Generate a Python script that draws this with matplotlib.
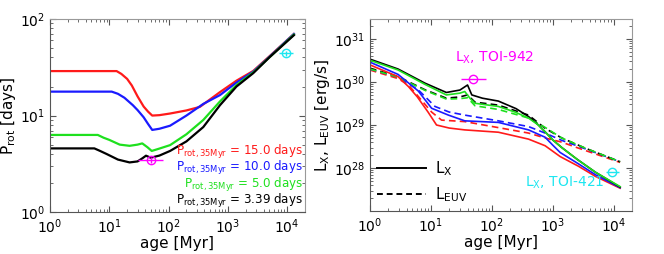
import numpy as np
import matplotlib
matplotlib.use("Agg")
from matplotlib import pyplot as plt

# left panel: rotation period tracks (age [Myr], P_rot [days])
age_red = [1, 13.3, 16, 20, 24, 30, 38, 45, 53, 70, 106, 200, 337, 736, 1400, 2680, 5000, 13000]
prot_red = [28.9, 28.9, 27, 24, 20.5, 15.8, 12.4, 11.0, 10.0, 10.1, 10.5, 11.3, 12.3, 17.5, 23, 29, 41, 70]
age_blue = [1, 11, 14, 18, 25, 30, 38, 45, 53, 70, 106, 200, 385, 736, 1400, 2680, 5000, 13000]
prot_blue = [17.7, 17.7, 16.8, 15.3, 12.8, 11.4, 9.6, 8.2, 7.1, 7.3, 7.85, 10.0, 13.2, 16.3, 22, 28.5, 40.5, 70]
age_green = [1, 6.4, 8, 10, 15, 22, 30, 36, 44, 52, 70, 106, 200, 385, 736, 1400, 2680, 5000, 13000]
prot_green = [6.3, 6.3, 5.9, 5.6, 5.0, 4.86, 5.0, 5.15, 4.7, 4.3, 4.55, 4.94, 6.4, 9.0, 14.0, 20.7, 28, 40, 69]
age_black = [1, 5.6, 7, 9, 14, 22, 30, 36, 41.6, 50, 70, 106, 200, 385, 736, 1400, 2680, 5000, 13000]
prot_black = [4.57, 4.57, 4.3, 4.0, 3.5, 3.27, 3.35, 3.6, 3.84, 3.66, 3.85, 4.3, 5.4, 7.6, 12.8, 20, 27.5, 40, 68]
prot_labels = ["15.0", "10.0", "5.0", "3.39"]

# observed points
toi942_age, toi942_age_lo, toi942_age_hi = 50, 19, 31
toi942_prot, toi942_lx = 3.46, 1.16e30
toi421_age, toi421_age_lo, toi421_age_hi = 9400, 2000, 3000
toi421_prot, toi421_lx = 44, 8.3e27

# right panel: L_X (solid) and L_EUV (dashed)
lx_red_age = [1, 2.9, 4.3, 6, 9, 12.4, 20, 36, 128, 400, 748, 1320, 2640, 5000, 12700]
lx_red = [2.5e30, 1.33e30, 7.8e29, 4.5e29, 2e29, 1e29, 8.5e28, 7.7e28, 6.8e28, 4.7e28, 3.3e28, 1.85e28, 1.1e28, 6.4e27, 3.4e27]
lx_blue_age = [1, 2.9, 6.2, 10.3, 19.4, 36, 128, 400, 748, 1000, 1320, 2640, 5000, 12700]
lx_blue = [2.9e30, 1.5e30, 6.2e29, 2.45e29, 1.7e29, 1.25e29, 1.15e29, 7.7e28, 5.2e28, 3.4e28, 2.3e28, 1.25e28, 7e27, 3.5e27]
lx_green_age = [1, 2.9, 8, 18, 30, 36, 45, 53, 128, 240, 400, 580, 800, 1000, 1400, 2500, 5000, 12700]
lx_green = [3.2e30, 1.9e30, 8.8e29, 5e29, 5.5e29, 6e29, 4e29, 3.2e29, 2.7e29, 2e29, 1.45e29, 1e29, 6.3e28, 4.5e28, 3e28, 1.6e28, 8e27, 3.7e27]
lx_black_age = [1, 2.9, 8, 18, 30, 40, 47, 70, 128, 250, 400, 580, 800, 1000, 1400, 2500, 5000, 12700]
lx_black = [3.4e30, 2e30, 9.4e29, 5.7e29, 6.5e29, 8.5e29, 5e29, 4.2e29, 3.6e29, 2.4e29, 1.57e29, 1e29, 6.3e28, 4.5e28, 3e28, 1.6e28, 8e27, 3.6e27]

euv_red_age = [1, 2.9, 4.3, 10.3, 15, 36, 128, 400, 748, 1400, 2640, 12700]
euv_red = [1.9e30, 1.2e30, 8.5e29, 2e29, 1.3e29, 1.2e29, 8.7e28, 6.5e28, 5e28, 4e28, 2.9e28, 1.35e28]
euv_blue_age = [1, 2.9, 6.2, 11.7, 20, 36, 128, 400, 748, 1400, 2640, 12700]
euv_blue = [2e30, 1.3e30, 6.6e29, 2.7e29, 2e29, 1.7e29, 1.25e29, 9.2e28, 6.5e28, 4.4e28, 3.2e28, 1.4e28]
euv_green_age = [1, 2.9, 8, 18, 30, 40, 53, 128, 400, 748, 1400, 3400, 12700]
euv_green = [2e30, 1.3e30, 6.4e29, 4e29, 4.1e29, 4.3e29, 2.8e29, 2.3e29, 1.45e29, 8.8e28, 5e28, 2.9e28, 1.4e28]
euv_black_age = [1, 2.9, 8, 18, 30, 40, 53, 128, 400, 748, 1400, 3400, 12700]
euv_black = [2.1e30, 1.33e30, 6.6e29, 4.2e29, 4.5e29, 5e29, 3.4e29, 2.9e29, 1.7e29, 8.4e28, 5e28, 2.9e28, 1.4e28]

RED, BLUE, GREEN, BLACK = "#ff1a1a", "#1a1aff", "#1ee01e", "black"
MAG, CYAN = "#ff00ff", "#1ee6f0"

plt.rcParams["font.family"] = "DejaVu Sans"
plt.rcParams["font.size"] = 10

fig = plt.figure(figsize=(6.64, 2.54), dpi=100)
ax1 = fig.add_axes([0.0753, 0.165, 0.384, 0.76])
ax2 = fig.add_axes([0.557, 0.169, 0.395, 0.756])


def style(ax):
    ax.set_xscale("log")
    ax.set_yscale("log")
    ax.tick_params(which="both", direction="in", top=True, right=True, colors="#555555", labelcolor="black", labelsize=10)
    ax.tick_params(which="major", length=4, width=0.8)
    ax.tick_params(which="minor", length=2.5, width=0.6)
    for s in ["top", "right"]:
        ax.spines[s].set_color("#999999")
    for s in ["bottom", "left"]:
        ax.spines[s].set_color("#555555")
    ax.set_xlim(1, 2e4)
    ax.set_xlabel("age [Myr]", fontsize=11, labelpad=0)


# left panel
style(ax1)
lw = 1.6
ax1.plot(age_red, prot_red, color=RED, lw=lw)
ax1.plot(age_blue, prot_blue, color=BLUE, lw=lw)
ax1.plot(age_green, prot_green, color=GREEN, lw=lw)
ax1.plot(age_black, prot_black, color=BLACK, lw=lw)
ax1.errorbar([toi942_age], [toi942_prot], xerr=[[toi942_age_lo], [toi942_age_hi]], yerr=[[0.25], [0.25]],
             fmt="o", mfc="none", mec=MAG, ecolor=MAG, ms=6, mew=1, elinewidth=1, capsize=0)
ax1.errorbar([toi421_age], [toi421_prot], xerr=[[toi421_age_lo], [toi421_age_hi]], yerr=[[2.5], [2.5]],
             fmt="o", mfc="none", mec=CYAN, ecolor=CYAN, ms=6, mew=1, elinewidth=1, capsize=0)
ax1.set_ylim(1, 100)
ax1.set_ylabel(r"P$_{\rm rot}$ [days]", fontsize=11, labelpad=1)
for i, (lab, c) in enumerate(zip(prot_labels, [RED, BLUE, GREEN, BLACK])):
    ax1.text(0.993, 0.311 - i * 0.085, r"P$_{\rm rot,35Myr}$ = " + lab + " days", color=c,
             transform=ax1.transAxes, ha="right", va="center", fontsize=8.6)

# right panel
style(ax2)
lw2 = 1.2
dash = (0, (4, 2.5))
ax2.plot(euv_red_age, euv_red, color=RED, lw=lw2, ls=dash)
ax2.plot(euv_blue_age, euv_blue, color=BLUE, lw=lw2, ls=dash)
ax2.plot(euv_black_age, euv_black, color=BLACK, lw=lw2, ls=dash)
ax2.plot(euv_green_age, euv_green, color=GREEN, lw=lw2, ls=dash)
ax2.plot(lx_red_age, lx_red, color=RED, lw=lw2)
ax2.plot(lx_blue_age, lx_blue, color=BLUE, lw=lw2)
ax2.plot(lx_black_age, lx_black, color=BLACK, lw=lw2)
ax2.plot(lx_green_age, lx_green, color=GREEN, lw=lw2)
ax2.errorbar([toi942_age], [toi942_lx], xerr=[[toi942_age_lo], [toi942_age_hi]],
             fmt="o", mfc="none", mec=MAG, ecolor=MAG, ms=6, mew=1, elinewidth=1, capsize=0)
ax2.errorbar([toi421_age], [toi421_lx], xerr=[[toi421_age_lo], [toi421_age_hi]],
             fmt="o", mfc="none", mec=CYAN, ecolor=CYAN, ms=6, mew=1, elinewidth=1, capsize=0)
ax2.set_ylim(1e27, 2.9e31)
ax2.set_yticks([1e28, 1e29, 1e30, 1e31])
ax2.set_ylabel(r"L$_{\rm X}$, L$_{\rm EUV}$ [erg/s]", fontsize=11, labelpad=1)
ax2.text(0.477, 0.80, r"L$_{\rm X}$, TOI-942", color=MAG, transform=ax2.transAxes, ha="center", va="center", fontsize=10)
ax2.text(0.893, 0.146, r"L$_{\rm X}$, TOI-421", color=CYAN, transform=ax2.transAxes, ha="right", va="center", fontsize=10)

h1, = ax2.plot([], [], color="black", lw=1.4)
h2, = ax2.plot([], [], color="black", lw=1.4, ls=(0, (3, 2)))
ax2.legend([h1, h2], [r"L$_{\rm X}$", r"L$_{\rm EUV}$"], loc="lower left", frameon=False,
           handlelength=3.2, labelspacing=0.5, fontsize=11, borderaxespad=0.05, handletextpad=0.6)

fig.savefig("out.png", dpi=100)
